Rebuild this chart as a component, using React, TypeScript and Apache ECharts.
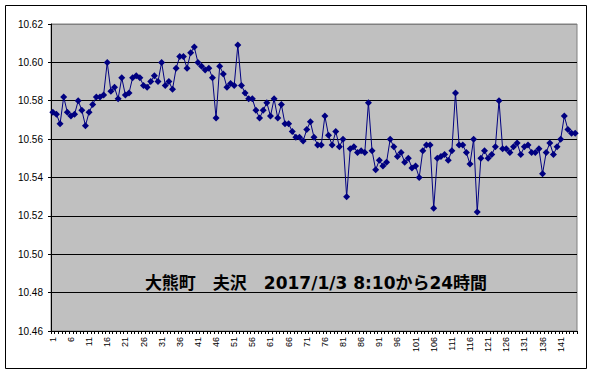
import React, { useEffect, useRef } from "react";
import * as echarts from "echarts";

const categories: string[] = Array.from({ length: 145 }, (_, i) => String(i + 1));

const values: number[] = [
  10.574, 10.573, 10.568, 10.582, 10.574, 10.572, 10.573, 10.580, 10.575, 10.567,
  10.574, 10.578, 10.582, 10.582, 10.583, 10.600, 10.585, 10.587, 10.581, 10.592,
  10.583, 10.584, 10.592, 10.593, 10.592, 10.588, 10.587, 10.590, 10.593, 10.590,
  10.600, 10.588, 10.590, 10.586, 10.597, 10.603, 10.603, 10.597, 10.605, 10.608,
  10.600, 10.598, 10.596, 10.597, 10.592, 10.571, 10.598, 10.594, 10.587, 10.589,
  10.588, 10.609, 10.588, 10.584, 10.581, 10.581, 10.575, 10.571, 10.575, 10.579,
  10.572, 10.581, 10.571, 10.578, 10.568, 10.568, 10.564, 10.561, 10.561, 10.559,
  10.565, 10.569, 10.561, 10.557, 10.557, 10.572, 10.562, 10.557, 10.564, 10.556,
  10.560, 10.530, 10.555, 10.556, 10.553, 10.554, 10.553, 10.579, 10.554, 10.544,
  10.549, 10.546, 10.548, 10.560, 10.556, 10.551, 10.553, 10.548, 10.550, 10.545,
  10.546, 10.540, 10.554, 10.557, 10.557, 10.524, 10.550, 10.551, 10.552, 10.549,
  10.554, 10.584, 10.557, 10.557, 10.553, 10.547, 10.560, 10.522, 10.550, 10.554,
  10.550, 10.552, 10.556, 10.580, 10.555, 10.555, 10.553, 10.556, 10.558, 10.552,
  10.556, 10.557, 10.553, 10.553, 10.555, 10.542, 10.553, 10.558, 10.552, 10.556,
  10.560, 10.572, 10.565, 10.563, 10.563,
];

const titleText = "大熊町　夫沢　2017/1/3 8:10から24時間";
const yMin = 10.46;
const yMax = 10.62;
const yStep = 0.02;

export default function App() {
  const ref = useRef<HTMLDivElement>(null);

  useEffect(() => {
    if (!ref.current) return;
    const chart = echarts.init(ref.current, undefined, { renderer: "svg" });
    chart.setOption({
      animation: false,
      backgroundColor: "#ffffff",
      grid: {
        left: 51,
        top: 24,
        width: 526,
        height: 307,
        show: true,
        backgroundColor: "#C0C0C0",
        borderColor: "#808080",
        borderWidth: 1,
      },
      xAxis: {
        type: "category",
        data: categories,
        boundaryGap: true,
        axisLine: { show: true, lineStyle: { color: "#000", width: 1 } },
        axisTick: { show: true, interval: 0, length: 3, lineStyle: { color: "#000" } },
        axisLabel: {
          interval: 4,
          rotate: 90,
          color: "#000",
          fontSize: 9,
          fontFamily: "Liberation Sans, Arial, sans-serif",
          margin: 6,
        },
        splitLine: { show: false },
      },
      yAxis: {
        type: "value",
        min: yMin,
        max: yMax,
        interval: yStep,
        axisLine: { show: true, lineStyle: { color: "#000", width: 1 } },
        axisTick: { show: true, length: 3, lineStyle: { color: "#000" } },
        axisLabel: {
          color: "#000",
          fontSize: 10,
          fontFamily: "Liberation Sans, Arial, sans-serif",
          margin: 8,
          formatter: (v: number) => v.toFixed(2),
        },
        splitLine: {
          show: true,
          lineStyle: {
            color: ["#000", "#000", "#000", "#000", "#000", "#000", "#000", "#000", "#808080"],
            width: 1,
          },
        },
      },
      series: [
        {
          type: "line",
          data: values,
          symbol: "diamond",
          symbolSize: 7,
          showSymbol: true,
          showAllSymbol: true,
          lineStyle: { color: "#000080", width: 1 },
          itemStyle: { color: "#000080" },
          silent: true,
        },
      ],
      graphic: [
        {
          type: "rect",
          shape: { x: 5.5, y: 5.5, width: 581, height: 363 },
          style: { fill: "none", stroke: "#000", lineWidth: 1 },
          silent: true,
        },
        {
          type: "text",
          x: 316,
          y: 283,
          style: {
            text: titleText,
            fill: "#000",
            font: "bold 17px 'DejaVu Sans', 'Noto Sans CJK JP', sans-serif",
            align: "center",
            verticalAlign: "middle",
          },
          silent: true,
        },
      ],
    });
    return () => chart.dispose();
  }, []);

  return (
    <div
      ref={ref}
      style={{ position: "absolute", left: 0, top: 0, width: 593, height: 375 }}
    />
  );
}
